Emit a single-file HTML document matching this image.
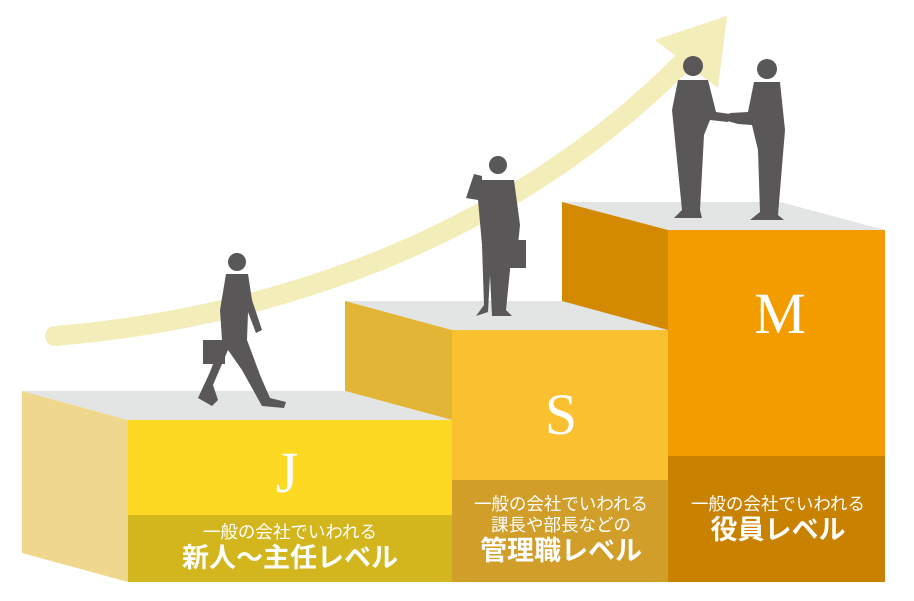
<!DOCTYPE html>
<html><head><meta charset="utf-8"><style>
html,body{margin:0;padding:0;background:#fff}
svg{display:block}
.t{font-family:"Liberation Sans","Noto Sans CJK JP",sans-serif;fill:#fff;text-anchor:middle}
.L{font-family:"Liberation Serif",serif;fill:#fff;text-anchor:middle}
</style></head><body>
<svg width="914" height="601" viewBox="0 0 914 601" xmlns="http://www.w3.org/2000/svg">
<path d="M55,336 C250,320 500,250 690,55" fill="none" stroke="#F3EDBA" stroke-width="20" stroke-linecap="round"/>
<polygon points="655,40 727,16 718,88" fill="#F3EDBA"/>

<polygon points="562,202 780,202 885,230 668,230" fill="#E3E5E5"/>
<polygon points="562,202 668,230 668,332 562,302" fill="#D38A00"/>
<rect x="668" y="230" width="217" height="226" fill="#F39C00"/>
<rect x="668" y="456" width="217" height="126" fill="#C98100"/>

<polygon points="345,301 562,301 668,330 452,330" fill="#E3E5E5"/>
<polygon points="345,301 452,330 452,420 345,391" fill="#E2B536"/>
<rect x="452" y="330" width="216" height="150" fill="#F9C02F"/>
<rect x="452" y="480" width="216" height="102" fill="#D19E2A"/>

<polygon points="22,391 345,391 452,420 128,420" fill="#E3E5E5"/>
<polygon points="22,391 128,420 128,582 22,553" fill="#EFD88E"/>
<rect x="128" y="420" width="324" height="95" fill="#FDD923"/>
<rect x="128" y="515" width="324" height="67" fill="#D3B61E"/>

<text class="L" x="287" y="492" font-size="58">J</text>
<text class="L" x="561" y="434" font-size="58">S</text>
<text class="L" x="780" y="333" font-size="58">M</text>

<text class="t" x="290" y="538" font-size="17.5">一般の会社でいわれる</text>
<text class="t" x="290" y="567" font-size="27" font-weight="bold">新人〜主任レベル</text>
<text class="t" x="561" y="510" font-size="17.5">一般の会社でいわれる</text>
<text class="t" x="561" y="531" font-size="17.5">課長や部長などの</text>
<text class="t" x="561" y="560" font-size="27" font-weight="bold">管理職レベル</text>
<text class="t" x="778" y="510" font-size="17.5">一般の会社でいわれる</text>
<text class="t" x="778" y="539" font-size="27" font-weight="bold">役員レベル</text>

<g fill="#595757">
 <circle cx="237" cy="262" r="9"/>
 <path d="M226,274 L248,274 L252,300 L262,330 L256,333 L248,312 L247,340 L260,375 L270,398 L286,402 L284,408 L262,406 L242,370 L228,350 L213,385 L218,400 L212,406 L198,398 L210,372 L222,340 L220,310 Z"/>
 <rect x="203" y="340" width="22" height="24"/>
 <circle cx="498" cy="165" r="9"/>
 <path d="M482,180 L514,180 L520,225 L518,245 L510,245 L512,250 L506,310 L512,316 L492,316 L490,275 L488,312 L476,316 L484,305 L482,245 L478,200 L466,198 L474,174 L482,176 Z"/>
 <rect x="500" y="240" width="26" height="28"/>
 <circle cx="693" cy="66" r="10"/>
 <path d="M678,80 L708,80 L716,112 L730,114 L728,122 L710,120 L704,135 L700,210 L702,218 L674,218 L682,210 L676,150 L672,110 Z"/>
 <circle cx="767" cy="69" r="10"/>
 <path d="M754,82 L780,82 L785,130 L778,215 L784,220 L750,220 L760,212 L758,150 L752,125 L738,124 L724,120 L730,113 L748,112 Z"/>
</g>
</svg>
</body></html>
